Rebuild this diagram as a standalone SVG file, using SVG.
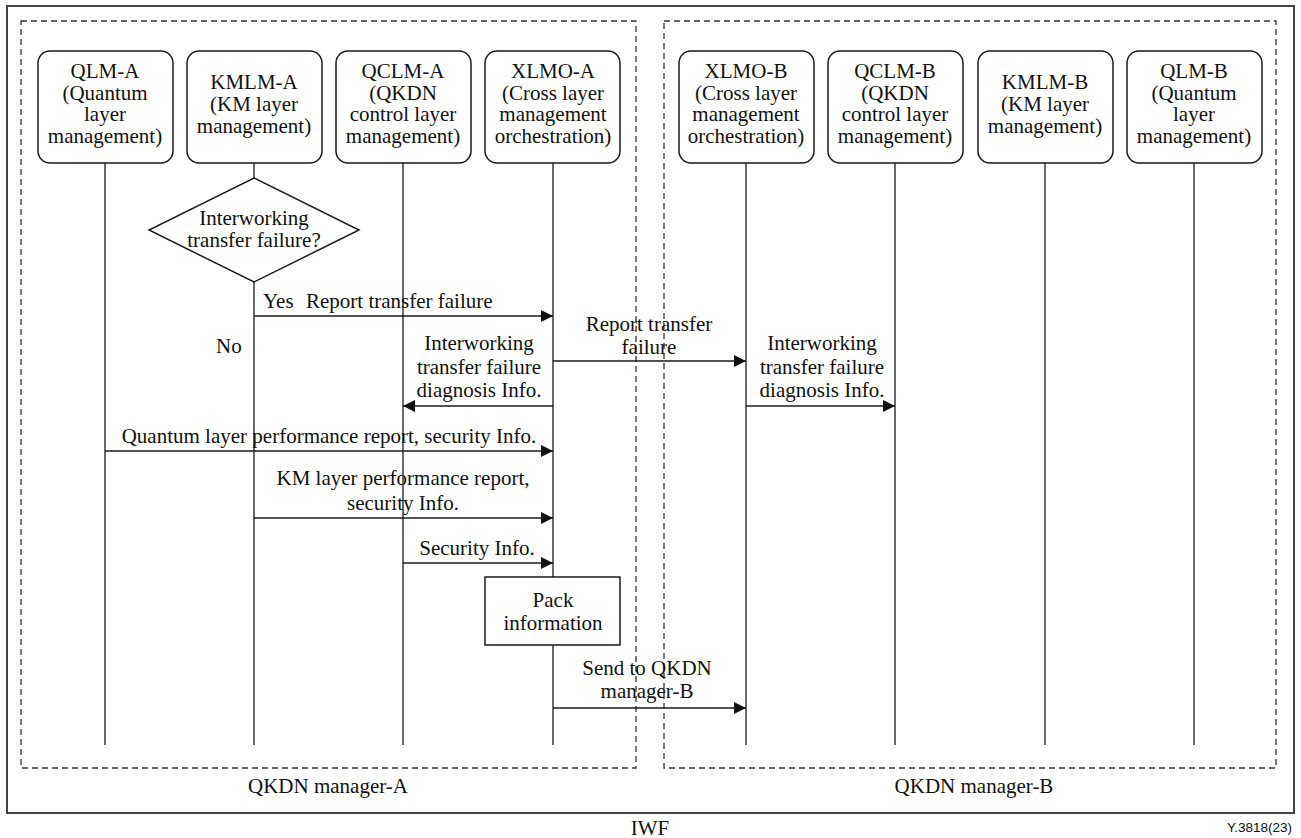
<svg xmlns="http://www.w3.org/2000/svg" width="1301" height="838" viewBox="0 0 1301 838" font-family="Liberation Serif, Times New Roman, DejaVu Serif, serif">
  <style>
    text { font-size: 21px; fill: #111; }
    .c { text-anchor: middle; }
    .node { fill: #fff; stroke: #1a1a1a; stroke-width: 1.5; }
    .life { stroke: #1a1a1a; stroke-width: 1.3; fill: none; }
    .msg { stroke: #1a1a1a; stroke-width: 1.5; fill: none; marker-end: url(#arrow); }
    .frame { fill: none; stroke: #444; stroke-width: 2; }
    .zone { fill: none; stroke: #333; stroke-width: 1.3; stroke-dasharray: 6 4; }
    text.tag { font-size: 13.5px; }
  </style>
  <defs>
    <marker id="arrow" markerUnits="userSpaceOnUse" markerWidth="13" markerHeight="13" refX="12" refY="6.5" orient="auto">
      <path d="M0,0.5 L12,6.5 L0,12.5 z" fill="#111"/>
    </marker>
  </defs>

  <rect width="1301" height="838" fill="#fff"/>

  <!-- IWF frame and manager zones -->
  <g id="iwf">
    <rect class="frame" x="7" y="6" width="1287" height="807"/>
    <text class="c" x="650" y="835">IWF</text>
    <text class="tag" x="1292" y="832" text-anchor="end" font-family="Liberation Sans, Arial, sans-serif">Y.3818(23)</text>
  </g>
  <g id="manager-a">
    <rect class="zone" x="21" y="21" width="615" height="747"/>
    <text class="c" x="328" y="793">QKDN manager-A</text>
  </g>
  <g id="manager-b">
    <rect class="zone" x="664" y="21" width="612" height="747"/>
    <text class="c" x="974" y="793">QKDN manager-B</text>
  </g>

  <!-- lifelines -->
  <g id="lifelines">
    <line class="life" x1="105" y1="163" x2="105" y2="745"/>
    <line class="life" x1="254" y1="163" x2="254" y2="178"/>
    <line class="life" x1="254" y1="282" x2="254" y2="745"/>
    <line class="life" x1="403" y1="163" x2="403" y2="745"/>
    <line class="life" x1="553" y1="163" x2="553" y2="577"/>
    <line class="life" x1="553" y1="645" x2="553" y2="745"/>
    <line class="life" x1="746" y1="163" x2="746" y2="745"/>
    <line class="life" x1="895" y1="163" x2="895" y2="745"/>
    <line class="life" x1="1045" y1="163" x2="1045" y2="745"/>
    <line class="life" x1="1194" y1="163" x2="1194" y2="745"/>
  </g>

  <!-- side A components -->
  <g id="qlm-a">
    <rect class="node" x="38" y="51" width="135" height="112" rx="12"/>
    <text class="c" x="105" y="78">QLM-A</text>
    <text class="c" x="105" y="99.5">(Quantum</text>
    <text class="c" x="105" y="121">layer</text>
    <text class="c" x="105" y="142.5">management)</text>
  </g>
  <g id="kmlm-a">
    <rect class="node" x="187" y="51" width="135" height="112" rx="12"/>
    <text class="c" x="254" y="89">KMLM-A</text>
    <text class="c" x="254" y="111">(KM layer</text>
    <text class="c" x="254" y="133">management)</text>
  </g>
  <g id="qclm-a">
    <rect class="node" x="336" y="51" width="135" height="112" rx="12"/>
    <text class="c" x="403" y="78">QCLM-A</text>
    <text class="c" x="403" y="99.5">(QKDN</text>
    <text class="c" x="403" y="121">control layer</text>
    <text class="c" x="403" y="142.5">management)</text>
  </g>
  <g id="xlmo-a">
    <rect class="node" x="485" y="51" width="135" height="112" rx="12"/>
    <text class="c" x="553" y="78">XLMO-A</text>
    <text class="c" x="553" y="99.5">(Cross layer</text>
    <text class="c" x="553" y="121">management</text>
    <text class="c" x="553" y="142.5">orchestration)</text>
  </g>

  <!-- side B components -->
  <g id="xlmo-b">
    <rect class="node" x="679" y="51" width="135" height="112" rx="12"/>
    <text class="c" x="746" y="78">XLMO-B</text>
    <text class="c" x="746" y="99.5">(Cross layer</text>
    <text class="c" x="746" y="121">management</text>
    <text class="c" x="746" y="142.5">orchestration)</text>
  </g>
  <g id="qclm-b">
    <rect class="node" x="828" y="51" width="135" height="112" rx="12"/>
    <text class="c" x="895" y="78">QCLM-B</text>
    <text class="c" x="895" y="99.5">(QKDN</text>
    <text class="c" x="895" y="121">control layer</text>
    <text class="c" x="895" y="142.5">management)</text>
  </g>
  <g id="kmlm-b">
    <rect class="node" x="978" y="51" width="135" height="112" rx="12"/>
    <text class="c" x="1045" y="89">KMLM-B</text>
    <text class="c" x="1045" y="111">(KM layer</text>
    <text class="c" x="1045" y="133">management)</text>
  </g>
  <g id="qlm-b">
    <rect class="node" x="1127" y="51" width="135" height="112" rx="12"/>
    <text class="c" x="1194" y="78">QLM-B</text>
    <text class="c" x="1194" y="99.5">(Quantum</text>
    <text class="c" x="1194" y="121">layer</text>
    <text class="c" x="1194" y="142.5">management)</text>
  </g>

  <!-- decision on KMLM-A -->
  <g id="decision">
    <polygon class="node" points="254,178 359,230 254,282 149,230"/>
    <text class="c" x="254" y="225">Interworking</text>
    <text class="c" x="254" y="247">transfer failure?</text>
  </g>

  <!-- packing step on XLMO-A -->
  <g id="pack">
    <rect class="node" x="485" y="577" width="135" height="68"/>
    <text class="c" x="553" y="607">Pack</text>
    <text class="c" x="553" y="630">information</text>
  </g>

  <!-- messages -->
  <g id="connectors">
    <line class="msg" x1="254" y1="316" x2="553" y2="316"/>
    <text x="263" y="308">Yes</text>
    <text x="306" y="308">Report transfer failure</text>
    <text x="216" y="353">No</text>

    <line class="msg" x1="553" y1="406" x2="403" y2="406"/>
    <text class="c" x="479" y="350">Interworking</text>
    <text class="c" x="479" y="374">transfer failure</text>
    <text class="c" x="479" y="397">diagnosis Info.</text>

    <line class="msg" x1="553" y1="361" x2="746" y2="361"/>
    <text class="c" x="649" y="331">Report transfer</text>
    <text class="c" x="649" y="354">failure</text>

    <line class="msg" x1="746" y1="406" x2="895" y2="406"/>
    <text class="c" x="822" y="350">Interworking</text>
    <text class="c" x="822" y="374">transfer failure</text>
    <text class="c" x="822" y="397">diagnosis Info.</text>

    <line class="msg" x1="105" y1="451" x2="553" y2="451"/>
    <text class="c" x="329" y="443">Quantum layer performance report, security Info.</text>

    <line class="msg" x1="254" y1="518" x2="553" y2="518"/>
    <text class="c" x="403" y="485">KM layer performance report,</text>
    <text class="c" x="403" y="510">security Info.</text>

    <line class="msg" x1="403" y1="563" x2="553" y2="563"/>
    <text class="c" x="477" y="555">Security Info.</text>

    <line class="msg" x1="553" y1="708" x2="746" y2="708"/>
    <text class="c" x="647" y="675">Send to QKDN</text>
    <text class="c" x="647" y="698">manager-B</text>
  </g>
</svg>
